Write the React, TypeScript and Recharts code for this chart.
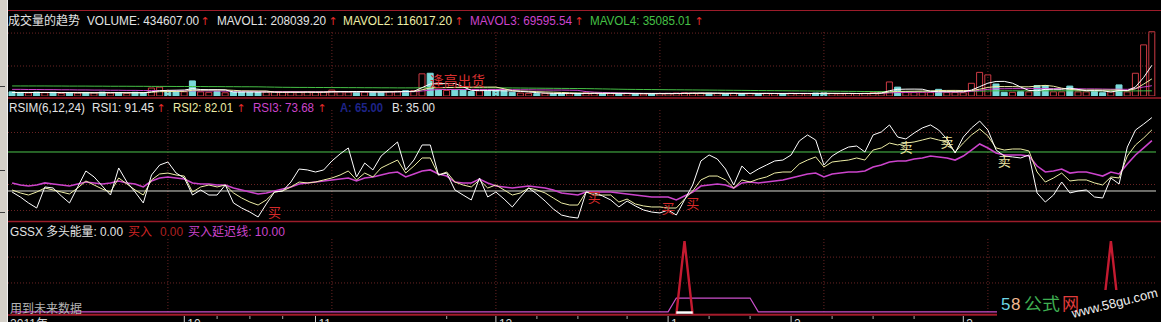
import React from 'react';
import { ComposedChart, Line, Bar, Cell, XAxis, YAxis, ReferenceLine } from 'recharts';

const W = 1161;
const H = 322;
const FONT = "'Liberation Sans', Arial, 'Noto Sans CJK SC', sans-serif";

// ---------- data ----------
const barIndex = Array.from({ length: 140 }, (_, i) => i);

// volume in thousands
const volume = [28,24,20,26,22,25,18,22,20,24, 21,26,20,23,19,25,22,54,60,30, 30,28,102,28,25,30,22,28,28,26,
  25,26,27,25,27,26,28,25,27,40, 30,27,28,26,28,27,30,32,36,36, 150,154,41,38,40,40,30,35,38,38,
  35,25,20,18,16,18,15,17,16,18, 22,20,17,16,15,18,16,14,15,16, 18,20,22,20,19,18,17,16,18,15,
  17,16,18,17,15,18,17,16,20,21, 16,15,17,16,18,22,30,95,60,25, 24,26,25,45,25,24,22,86,160,143,
  81,25,25,29,28,71,71,28,28,67, 28,28,30,22,28,75,28,154,346,434.607];
// 1 = up day (hollow red), 0 = down day (filled cyan)
const volumeUp = [0,0,1,0,1,0,1,0,1,0, 1,0,1,0,1,0,0,1,1,0, 0,1,0,1,1,0,1,0,0,0, 0,1,1,1,1,1,1,1,1,1,
  1,1,0,1,0,0,1,1,0,1, 1,0,0,1,0,0,0,1,0,0, 0,0,1,1,0,1,0,0,1,0, 1,1,0,1,0,1,0,1,0,1,
  1,1,1,1,1,0,1,0,1,0, 1,0,1,1,0,1,1,1,0,0, 1,1,1,1,1,1,1,1,0,1, 1,1,1,0,1,1,1,1,1,1,
  0,0,1,0,1,0,0,1,1,0, 1,1,0,0,1,0,1,1,1,1];
const mavol1 = [24,24,24,24,24,23.4,22.2,22.6,21.4,21.8, 21,22.6,22.2,22.8,21.8,22.6,21.8,28.6,36,38.2,
  39.2,40.4,50,43.6,42.6,42.6,41.4,26.6,26.6,26.8, 25.8,26.6,26.4,25.8,26,26.2,26.6,26.2,26.6,29.2,
  30,29.8,30.4,30.2,27.8,27.2,27.8,28.6,30.6,32.2, 56.8,81.6,83.4,83.8,84.6,62.6,37.8,36.6,36.6,36.2,
  35.2,34.2,31.2,27.2,22.8,19.4,17.4,16.8,16.4,16.8, 17.6,18.6,18.6,18.6,18,17.2,16.4,15.8,15.6,15.8,
  15.8,16.6,18.2,19.2,19.8,19.8,19.2,18,17.6,16.8, 16.6,16.4,16.8,16.6,16.6,16.8,17,16.6,17.2,18.4,
  18,17.6,17.8,17,16.4,17.6,20.6,36.2,45,46.4, 46.8,46,32,29,29,29,28.2,40.4,63.4,87,
  98.4,99,86.8,60.6,37.6,35.6,44.8,45.4,45.2,53, 44.4,35.8,36.2,35,27.2,36.6,36.6,61.4,126.2,208.039];
const mavol2 = [24,24,24,24,24,24,23.5,23.5,23,22.9, 22.2,22.4,22.4,22.1,21.8,21.8,22.2,25.4,29.4,30,
  30.9,31.1,39.3,39.8,40.4,40.9,40.9,38.3,35.1,34.7, 34.2,34,26.5,26.2,26.4,26,26.6,26.3,26.2,27.6,
  28.1,28.2,28.3,28.4,28.5,28.6,28.8,29.5,30.4,30, 42,54.7,56,57.2,58.4,59.7,59.7,60,60.2,60.4,
  48.9,36,33.9,31.9,29.5,27.3,25.8,24,21.8,19.8, 18.5,18,17.7,17.5,17.4,17.4,17.5,17.2,17.1,16.9,
  16.5,16.5,17,17.4,17.8,17.8,17.9,18.1,18.4,18.3, 18.2,17.8,17.4,17.1,16.7,16.7,16.7,16.7,16.9,17.5,
  17.4,17.3,17.2,17.1,17.4,17.8,19.1,27,31,31.4, 32.2,33.3,34.1,37,37.7,37.9,37.1,36.2,46.2,58,
  63.7,63.6,63.6,62,62.3,67,71.9,66.1,52.9,45.3, 40,40.3,40.8,40.1,40.1,40.5,36.2,48.8,80.6,116.017];
const mavol3 = [45,45,44,44,43,43,42,42,41,41, 40,40,39,39,38,38,37,37,36,36, 35,35,35,35,34,34,33,33,32,32,
  31,31,30,30,30,29,29,29,28,28, 28,28,28,28,28,28,28,28,29,29, 34,40,44,44,44,44,44,44,44,44,
  44,43,42,42,41,41,40,40,39,38, 30,26,24,22,21,20,19,18,18,18, 18,18,18,18,18,18,18,18,18,18,
  18,18,18,18,18,18,18,18,17,17, 17,17,17,17,17,17,18,21,23,24, 25,26,26,27,27,27,28,32,38,45,
  49,49,50,50,50,50,50,50,50,50, 49,48,48,47,46,46,45,52,61,69.595];
const mavol4 = [68,68,68,68,68,67.5,67.5,67,67,67, 66.5,66.5,66,66,66,65.5,65.5,65,65,65,
  64.5,64.5,64,64,63.5,63.5,63,63,62.5,62.5, 62,61,60,59,58.5,58,58,57.5,57.5,57,
  57,56.5,56.5,56,56,55.5,55.5,55,55,55, 56,57,57,57,57,57,56.5,56,56,55.5,
  55,54.5,54,53.5,53,52.5,52,51.5,51,50.5, 50,49,48,47,46,45,44.5,44,43.5,43,
  42.5,42,41.5,41,40.5,40,39.5,39,38.5,38, 37.5,37,36.5,36,35.5,35,34.5,34,33.5,33,
  32.5,32,31.5,31,30.5,30,30,30,30.5,31, 31,31,31,31,31,31,31,32,33,34,
  35,35,35,35,35,35,35,35,35,35, 35,34.5,34.5,34,34,34,34,34.5,34.8,35.085];

const rsi1 = [34.2,30.4,25.8,21.9,38.1,37.3,31.2,25.8,38.1,50.4, 45.8,38.8,31.9,52.7,41.9,34.2,25.8,47.3,55.0,57.3,
  48.8,45.0,31.9,35.8,31.9,31.9,39.6,25.8,21.9,18.8, 15.0,25.0,34.2,35.0,41.9,51.9,51.2,49.6,51.2,58.1,
  63.5,68.1,45.8,56.5,51.2,61.9,67.3,72.7,51.2,58.8, 70.4,70.4,47.3,48.8,35.8,31.9,28.1,45.0,30.4,34.2,
  28.8,22.7,30.4,37.3,32.7,27.3,21.2,16.5,15.0,14.2, 34.2,33.5,31.2,28.1,22.7,27.3,23.5,20.4,18.8,18.1,
  20.4,16.5,28.1,39.6,58.1,62.7,59.6,51.9,39.6,54.2, 48.1,51.9,55.0,58.1,58.8,62.7,73.5,78.1,74.2,55.0,
  61.9,65.8,68.8,69.6,65.0,78.1,80.4,85.8,76.5,75.0, 79.6,83.5,85.8,81.9,75.0,64.2,76.5,83.5,88.8,81.9,
  66.5,61.9,61.2,60.4,62.7,33.5,26.5,31.9,41.9,33.5, 35.0,35.8,30.4,29.6,45.0,40.4,68.8,81.9,86.5,91.45];
const rsi2 = [35.8,33.5,31.9,34.2,37.3,35.8,34.2,32.7,37.3,42.7, 39.6,36.5,34.2,45.0,40.4,35.8,31.9,43.5,48.1,48.8,
  47.3,46.5,34.2,38.1,39.6,38.1,39.6,33.5,29.6,26.5, 24.2,28.1,34.2,35.0,38.1,41.9,41.2,41.9,43.5,45.0,
  47.3,50.4,43.5,48.8,45.8,52.7,55.8,58.8,48.8,54.2, 60.4,60.4,47.3,49.6,41.9,39.6,38.1,43.5,37.3,39.6,
  35.8,31.9,33.5,37.3,35.8,33.5,29.6,25.8,24.2,24.2, 34.2,31.9,31.9,31.9,26.5,28.8,25.0,23.5,22.7,22.7,
  21.9,21.9,28.8,35.0,43.5,46.5,46.5,43.5,37.3,43.5, 41.9,44.2,45.8,48.8,49.6,49.6,55.8,58.8,61.2,53.5,
  57.3,58.1,58.8,60.4,58.8,66.5,68.1,71.9,70.4,71.9, 72.7,74.2,75.8,74.2,72.7,65.0,71.9,78.1,82.7,77.3,
  68.1,66.5,67.3,67.3,65.8,49.6,41.9,45.0,48.8,42.7, 43.5,43.5,41.2,39.6,45.8,45.0,61.9,70.4,75.8,82.01];
const rsi3 = [41.2,39.6,38.8,39.6,41.2,40.4,39.6,38.8,40.4,41.9, 41.2,40.4,41.2,42.7,41.2,40.4,38.1,42.7,45.0,45.8,
  45.0,44.2,41.2,40.4,40.4,39.6,39.6,37.3,35.8,34.2, 32.7,33.5,35.0,36.5,38.1,40.4,41.2,41.9,42.7,43.5,
  44.2,45.0,42.7,45.0,45.8,47.3,48.8,49.6,45.8,48.1, 50.4,51.2,48.1,46.5,41.9,41.2,41.2,44.2,41.2,38.8,
  38.1,37.3,38.1,38.8,38.1,37.3,35.8,33.5,32.7,31.9, 34.2,34.2,34.2,34.2,33.5,32.7,31.9,31.2,30.4,30.4,
  30.4,28.1,31.2,34.2,38.8,39.6,40.4,39.6,37.3,41.2, 41.9,41.2,41.9,42.7,43.5,45.0,46.5,48.1,48.8,45.8,
  48.1,48.8,49.6,49.6,50.4,53.5,55.0,57.3,58.1,58.1, 59.6,60.4,61.9,61.2,60.4,58.8,61.9,66.5,71.2,68.1,
  64.2,62.7,62.7,62.7,61.9,54.2,49.6,50.4,51.9,48.8, 49.6,49.6,48.1,46.5,49.6,48.1,55.8,62.7,68.1,73.68];
const rsiLevelA = 65;
const rsiLevelB = 35;

const buyMarkIndex = [32, 71, 80, 83];
const buyMarkValue = [19.6, 31, 22, 26];
const sellMarkIndex = [109, 114, 121];
const sellMarkValue = [69.6, 72.7, 58.8];

const gssxBuyPeakIndex = [82, 134];
const gssxBuyPeakValue = [240, 240];
const gssxDelayRaisedIndex = [81, 82, 83, 84, 85, 86, 87, 88, 89, 90];
const gssxDelayBase = 10;
const gssxDelayRaised = 55;
const gssxEnergyIndex = [81, 82, 83];
const gssxEnergyValue = 8;

const gridIndex = [19, 39, 59, 79, 99, 119];
const timeTickIndex = [0, 21, 37, 59, 80, 95, 116];
const timeTickLabel = ['2011年', '10', '11', '12', '1', '2', '3'];
const minorTickIndex = [25, 29, 33, 53, 64, 69, 75, 85, 90, 100, 105, 110];

const data = barIndex.map((i) => ({
  i,
  vol: volume[i],
  up: volumeUp[i],
  ma1: mavol1[i],
  ma2: mavol2[i],
  ma3: mavol3[i],
  ma4: mavol4[i],
  rsi1: rsi1[i],
  rsi2: rsi2[i],
  rsi3: rsi3[i],
  buyMark: buyMarkIndex.includes(i) ? buyMarkValue[buyMarkIndex.indexOf(i)] : null,
  sellMark: sellMarkIndex.includes(i) ? sellMarkValue[sellMarkIndex.indexOf(i)] : null,
  gBuy: gssxBuyPeakIndex.includes(i) ? gssxBuyPeakValue[gssxBuyPeakIndex.indexOf(i)] : 0,
  gDelay: gssxDelayRaisedIndex.includes(i) ? gssxDelayRaised : gssxDelayBase,
  gEnergy: gssxEnergyIndex.includes(i) ? gssxEnergyValue : null,
}));

// ---------- styling ----------
const RED_LINE = '#9c1c2a';
const DOT = '#6a2424';
const CYAN = '#7adada';
const UPRED = '#cc3a44';
const YEL = '#eeeea6';
const MAG = '#cc44cc';
const GRN = '#46c046';
const MARGIN_X = { left: 8, right: 5 };

const gridLinesX = (key: string) =>
  gridIndex.map((g) => (
    <ReferenceLine key={key + g} x={g} stroke={DOT} strokeDasharray="1 2" ifOverflow="visible" />
  ));

const markText = (label: string, color: string) => (props: any) => {
  const { cx, cy, value, index } = props;
  if (value === null || value === undefined || cy === null || cy === undefined || isNaN(cy)) {
    return <g key={label + index} />;
  }
  return (
    <text key={label + index} x={cx} y={cy} fill={color} fontSize={13} textAnchor="middle"
      dominantBaseline="central" fontFamily="'Noto Sans CJK SC', sans-serif">{label}</text>
  );
};

const TimeTick = (props: any) => {
  const { x, payload } = props;
  const v = payload.value;
  const k = timeTickIndex.indexOf(v);
  if (k === 0) {
    return <text x={x - 2} y={328} fill="#d8d8d8" fontSize={12} fontFamily={FONT}>{timeTickLabel[0]}</text>;
  }
  if (k > 0) {
    return (
      <g>
        <line x1={x} x2={x} y1={316} y2={322} stroke="#c8c8c8" />
        <text x={x + 3} y={328} fill="#d8d8d8" fontSize={12} fontFamily={FONT}>{timeTickLabel[k]}</text>
      </g>
    );
  }
  return <line x1={x} x2={x} y1={316} y2={319} stroke="#a8a8a8" />;
};

const T = (p: { x: number; y: number; w?: number; fill: string; size?: number; weight?: string; anchor?: string; children: React.ReactNode; family?: string }) => (
  <text x={p.x} y={p.y} fill={p.fill} fontSize={p.size || 12} fontWeight={p.weight}
    textLength={p.w} lengthAdjust={p.w ? 'spacingAndGlyphs' : undefined}
    textAnchor={p.anchor as any} fontFamily={p.family || FONT}>{p.children}</text>
);
const Arrow = ({ x, y }: { x: number; y: number }) => (
  <text x={x} y={y} fill="#e02a2a" fontSize={11} textAnchor="middle" fontFamily="'DejaVu Sans', sans-serif">↑</text>
);

export default function App() {
  const layer: React.CSSProperties = { position: 'absolute', left: 0, top: 0 };
  return (
    <div style={{ position: 'absolute', left: 0, top: 0, width: W, height: H, background: '#000', overflow: 'hidden', fontFamily: FONT }}>
      {/* Volume panel */}
      <div style={layer}>
        <ComposedChart width={W} height={H} data={data} margin={{ top: 31, bottom: 226, ...MARGIN_X }}>
          <XAxis dataKey="i" type="category" scale="band" hide />
          <YAxis hide domain={[0, 440]} allowDataOverflow />
          <ReferenceLine y={426} stroke={DOT} strokeDasharray="1 2" />
          <ReferenceLine y={203} stroke={DOT} strokeDasharray="1 2" />
          {gridLinesX('v')}
          <Bar dataKey="vol" barSize={6} isAnimationActive={false}>
            {data.map((d) => (
              <Cell key={'c' + d.i} fill={d.up ? '#000' : CYAN} stroke={d.up ? UPRED : CYAN} strokeWidth={1} />
            ))}
          </Bar>
          <Line dataKey="ma4" stroke={GRN} dot={false} strokeWidth={1} isAnimationActive={false} />
          <Line dataKey="ma3" stroke={MAG} dot={false} strokeWidth={1} isAnimationActive={false} />
          <Line dataKey="ma2" stroke={YEL} dot={false} strokeWidth={1} isAnimationActive={false} />
          <Line dataKey="ma1" stroke="#ffffff" dot={false} strokeWidth={1} isAnimationActive={false} />
        </ComposedChart>
      </div>

      {/* RSI panel */}
      <div style={layer}>
        <ComposedChart width={W} height={H} data={data} margin={{ top: 110, bottom: 100, ...MARGIN_X }}>
          <XAxis dataKey="i" type="category" scale="band" hide />
          <YAxis hide domain={[11.15, 97.3]} allowDataOverflow />
          <ReferenceLine y={80} stroke={DOT} strokeDasharray="1 2" />
          <ReferenceLine y={40} stroke={DOT} strokeDasharray="1 2" />
          <ReferenceLine y={20} stroke={DOT} strokeDasharray="1 2" />
          {gridLinesX('r')}
          <ReferenceLine y={rsiLevelA} stroke="#4cc44c" strokeWidth={1} />
          <ReferenceLine y={rsiLevelB} stroke="#d8d8d0" strokeWidth={1} />
          <Line dataKey="rsi3" stroke={MAG} dot={false} strokeWidth={1.6} isAnimationActive={false} />
          <Line dataKey="rsi2" stroke={YEL} dot={false} strokeWidth={1} isAnimationActive={false} />
          <Line dataKey="rsi1" stroke="#ffffff" dot={false} strokeWidth={1} isAnimationActive={false} />
          <Line dataKey="buyMark" stroke="none" dot={markText('买', '#d42a2a')} activeDot={false} isAnimationActive={false} />
          <Line dataKey="sellMark" stroke="none" dot={markText('卖', '#ece4a4')} activeDot={false} isAnimationActive={false} />
        </ComposedChart>
      </div>

      {/* GSSX panel */}
      <div style={layer}>
        <ComposedChart width={W} height={H} data={data} margin={{ top: 238, bottom: 0, ...MARGIN_X }}>
          <XAxis dataKey="i" type="category" scale="band" height={7} axisLine={false} tickLine={false}
            ticks={[...timeTickIndex, ...minorTickIndex]} interval={0} tick={(p: any) => <TimeTick {...p} />} />
          <YAxis hide domain={[0, 250]} allowDataOverflow />
          <ReferenceLine y={188} stroke={DOT} strokeDasharray="1 2" />
          <ReferenceLine y={104} stroke={DOT} strokeDasharray="1 2" />
          {gridLinesX('g')}
          <Line dataKey="gDelay" stroke="#cc50cc" dot={false} strokeWidth={1.2} isAnimationActive={false} />
          <Line dataKey="gBuy" stroke="#c41a30" dot={false} strokeWidth={2.4} isAnimationActive={false} />
          <Line dataKey="gEnergy" stroke="#ffffff" dot={false} strokeWidth={2.5} connectNulls={false} isAnimationActive={false} />
        </ComposedChart>
      </div>

      {/* frame, titles and notes */}
      <svg width={W} height={H} style={{ position: 'absolute', left: 0, top: 0, pointerEvents: 'none' }}>
        <rect x={0} y={0} width={8} height={H} fill="#d4d0c8" />
        <line x1={7.5} x2={7.5} y1={0} y2={H} stroke="#f0f0f0" />
        <rect x={0} y={86} width={5} height={1} fill="#404040" />
        <rect x={0} y={170} width={5} height={1} fill="#404040" />
        <rect x={0} y={212} width={5} height={1} fill="#404040" />
        <line x1={8} x2={W} y1={10.5} y2={10.5} stroke={RED_LINE} />
        <line x1={8} x2={W} y1={98} y2={98} stroke={RED_LINE} strokeWidth={1.5} />
        <line x1={8} x2={W} y1={221.5} y2={221.5} stroke={RED_LINE} strokeWidth={1.5} />
        <line x1={8} x2={W} y1={315} y2={315} stroke={RED_LINE} strokeWidth={1.5} />

        {/* volume title */}
        <T x={8} y={24.5} w={72} fill="#e4e4e4">成交量的趋势</T>
        <T x={87} y={24.5} w={112} fill="#e4e4e4">VOLUME: 434607.00</T>
        <Arrow x={205} y={24.5} />
        <T x={217} y={24.5} w={109} fill="#e4e4e4">MAVOL1: 208039.20</T>
        <Arrow x={333} y={24.5} />
        <T x={343} y={24.5} w={109} fill={YEL}>MAVOL2: 116017.20</T>
        <Arrow x={459} y={24.5} />
        <T x={470} y={24.5} w={102} fill={MAG}>MAVOL3: 69595.54</T>
        <Arrow x={579} y={24.5} />
        <T x={590} y={24.5} w={101} fill={GRN}>MAVOL4: 35085.01</T>
        <Arrow x={699} y={24.5} />
        <T x={430} y={86} w={55} size={14} fill="#d83030" family="'Noto Sans CJK SC', sans-serif">逢高出货</T>

        {/* RSI title */}
        <T x={9} y={112} w={76} fill="#e4e4e4">RSIM(6,12,24)</T>
        <T x={92} y={112} w={62} fill="#e4e4e4">RSI1: 91.45</T>
        <Arrow x={161} y={112} />
        <T x={173} y={112} w={60} fill={YEL}>RSI2: 82.01</T>
        <Arrow x={241} y={112} />
        <T x={253} y={112} w={61} fill={MAG}>RSI3: 73.68</T>
        <Arrow x={322} y={112} />
        <T x={340} y={112} w={43} fill="#1e2488" weight="bold">A: 65.00</T>
        <T x={392} y={112} w={43} fill="#e4e4e4">B: 35.00</T>

        {/* GSSX title */}
        <T x={10} y={236} w={113} fill="#e4e4e4">GSSX 多头能量: 0.00</T>
        <T x={128} y={236} w={24} fill="#d02424">买入</T>
        <T x={160} y={236} w={23} fill="#b02020">0.00</T>
        <T x={188} y={236} w={97} fill={MAG}>买入延迟线: 10.00</T>
        <T x={10} y={313} w={72} fill="#b4b4b4">用到未来数据</T>

        {/* watermark */}
        <rect x={997} y={290} width={164} height={32} fill="#000" />
        <T x={1001} y={310} size={17} fill="#6cd4e4">5</T>
        <T x={1011} y={310} size={17} fill="#f0b890">8</T>
        <T x={1024} y={310} w={36} size={17} fill="#3fae52" family="'Noto Sans CJK SC', sans-serif">公式</T>
        <T x={1062} y={310} w={17} size={17} fill="#e03c3c" family="'Noto Sans CJK SC', sans-serif">网</T>
        <g transform="rotate(-14 1073 318)">
          <T x={1073} y={318} w={88} size={13} fill="#f0f0f0">www.58gu.com</T>
        </g>
      </svg>
    </div>
  );
}
